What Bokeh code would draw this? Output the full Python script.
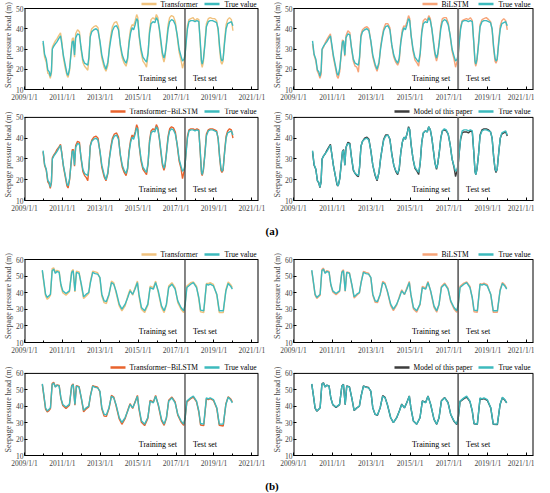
from bokeh.plotting import figure
from bokeh.models import Label, FixedTicker, Div, Range1d, Arrow
from bokeh.layouts import column, row
from bokeh.embed import file_html
from bokeh.resources import INLINE

# ---------------- data (decimal years) ----------------
dates_a = [2009.98, 2010.06, 2010.15, 2010.23, 2010.30, 2010.36, 2010.42, 2010.47, 2010.55, 2010.63,
           2010.71, 2010.80, 2010.90, 2010.96, 2011.05, 2011.14, 2011.24, 2011.30, 2011.38, 2011.46,
           2011.52, 2011.58, 2011.64, 2011.70, 2011.80, 2011.90, 2011.98, 2012.08, 2012.17, 2012.26,
           2012.34, 2012.40, 2012.47, 2012.55, 2012.66, 2012.78, 2012.88, 2012.98, 2013.08, 2013.20,
           2013.30, 2013.40, 2013.48, 2013.56, 2013.64, 2013.74, 2013.86, 2013.96, 2014.06, 2014.16,
           2014.26, 2014.36, 2014.44, 2014.52, 2014.60, 2014.68, 2014.76, 2014.84, 2014.92, 2014.98,
           2015.05, 2015.15, 2015.25, 2015.36, 2015.44, 2015.52, 2015.60, 2015.68, 2015.78, 2015.88,
           2015.96, 2016.04, 2016.12, 2016.20, 2016.28, 2016.36, 2016.42, 2016.50, 2016.58, 2016.66,
           2016.76, 2016.86, 2016.96, 2017.06, 2017.16, 2017.26, 2017.34, 2017.42, 2017.47, 2017.53,
           2017.60, 2017.68, 2017.78, 2017.90, 2018.00, 2018.10, 2018.20, 2018.28, 2018.34, 2018.38,
           2018.44, 2018.52, 2018.60, 2018.70, 2018.80, 2018.92, 2019.04, 2019.14, 2019.22, 2019.30,
           2019.37, 2019.42, 2019.48, 2019.56, 2019.64, 2019.72, 2019.82, 2019.92, 2020.00]

true_a = [34.0, 27.4, 25.0, 19.6, 18.8, 16.5, 19.0, 30.0, 31.5, 32.5,
          33.5, 35.0, 36.5, 33.0, 27.0, 22.7, 18.0, 17.0, 20.5, 28.0,
          33.5, 34.0, 27.0, 35.5, 37.5, 37.0, 31.0, 25.0, 23.0, 22.5,
          22.0, 26.0, 36.0, 38.5, 39.5, 40.0, 39.0, 34.0, 27.0, 22.5,
          20.0, 23.5, 30.0, 35.0, 39.0, 41.0, 41.5, 39.5, 32.0, 27.0,
          24.5, 23.0, 25.5, 33.0, 38.0, 40.5, 39.5, 42.0, 45.0, 44.0,
          37.0, 30.0, 26.0, 24.5, 23.5, 28.0, 38.0, 42.5, 43.5, 43.0,
          45.5, 44.0, 40.0, 34.0, 28.0, 25.5, 27.5, 33.0, 40.0, 43.5,
          44.5, 44.0, 42.0, 37.0, 30.0, 26.5, 24.0, 25.0, 27.0, 33.0,
          40.0, 43.5, 44.0, 44.0, 43.5, 44.0, 43.5, 33.0, 24.0, 22.5,
          25.0, 32.0, 41.0, 43.5, 44.0, 44.0, 43.5, 43.0, 40.0, 31.0,
          25.5, 24.0, 25.0, 33.0, 40.0, 42.5, 43.0, 43.5, 41.5]

transformer_a = [33.0, 26.0, 23.5, 18.0, 17.5, 15.5, 18.0, 31.0, 32.5, 34.0,
                 35.0, 36.5, 38.0, 34.5, 26.0, 21.0, 17.0, 16.0, 19.5, 29.5,
                 35.0, 35.5, 26.0, 37.5, 39.5, 38.5, 30.0, 23.5, 21.5, 20.5,
                 19.5, 25.0, 37.5, 40.0, 41.0, 41.5, 40.5, 33.0, 25.5, 21.0,
                 19.0, 22.0, 31.5, 37.0, 41.0, 43.0, 43.5, 41.0, 31.0, 25.5,
                 23.0, 21.5, 24.5, 34.5, 40.0, 42.0, 41.5, 44.0, 47.0, 45.5,
                 36.0, 28.5, 24.0, 22.5, 21.0, 27.0, 39.5, 44.5, 45.5, 44.5,
                 47.0, 45.5, 39.0, 32.5, 26.5, 23.5, 26.0, 34.5, 42.0, 45.5,
                 46.5, 46.0, 43.5, 36.0, 28.5, 24.5, 20.5, 23.5, 26.0, 34.5,
                 41.5, 44.5, 45.0, 45.5, 44.0, 45.0, 44.5, 32.0, 22.5, 21.0,
                 23.5, 33.5, 42.5, 45.0, 45.5, 45.0, 45.0, 44.0, 39.0, 29.5,
                 23.5, 22.5, 24.0, 34.5, 42.0, 44.5, 45.5, 44.5, 39.0]

bilstm_a = [32.5, 27.0, 24.0, 19.0, 17.5, 15.5, 17.5, 29.5, 31.0, 33.0,
            34.5, 36.0, 37.5, 32.0, 26.0, 21.5, 16.5, 15.5, 19.0, 28.5,
            34.5, 33.5, 26.5, 36.5, 39.0, 38.0, 30.5, 24.0, 21.5, 21.0,
            18.5, 25.5, 37.0, 39.5, 40.5, 41.0, 40.0, 33.5, 26.0, 21.5,
            19.0, 22.5, 31.0, 36.0, 40.0, 42.5, 42.5, 40.5, 31.5, 26.0,
            23.5, 22.0, 24.0, 34.0, 39.5, 41.5, 41.0, 43.5, 46.5, 45.0,
            36.5, 29.0, 24.5, 23.0, 21.5, 27.5, 39.0, 44.0, 45.0, 44.0,
            46.5, 45.0, 39.5, 33.0, 27.0, 24.0, 26.5, 34.0, 41.5, 45.0,
            45.5, 45.5, 43.0, 36.5, 29.0, 25.0, 21.0, 24.0, 26.5, 34.0,
            41.0, 44.0, 44.5, 45.0, 44.5, 45.5, 44.0, 32.5, 23.0, 21.5,
            24.0, 33.0, 42.0, 44.5, 45.0, 45.5, 44.5, 43.5, 39.5, 30.0,
            24.0, 23.0, 24.5, 34.0, 41.5, 44.0, 45.0, 44.0, 39.5]

hybrid_a = [33.5, 27.0, 24.5, 19.0, 18.0, 15.8, 18.5, 30.5, 32.0, 33.0,
            34.5, 35.5, 37.0, 33.5, 26.5, 22.0, 17.0, 16.0, 20.0, 28.5,
            34.5, 34.5, 26.5, 36.5, 38.5, 38.0, 30.5, 24.0, 22.0, 21.0,
            19.5, 25.5, 36.5, 39.0, 40.5, 41.0, 40.0, 33.5, 26.0, 21.5,
            19.5, 23.0, 30.5, 36.0, 40.0, 42.0, 42.5, 40.5, 31.5, 26.0,
            23.5, 22.0, 25.0, 34.0, 39.0, 41.5, 40.5, 43.0, 46.5, 45.0,
            36.5, 29.0, 25.0, 23.5, 22.5, 27.5, 39.0, 43.5, 44.5, 44.0,
            46.5, 45.0, 39.5, 33.0, 27.0, 24.5, 26.5, 34.0, 41.0, 44.5,
            45.5, 45.0, 43.0, 36.5, 29.0, 25.5, 20.5, 24.0, 26.5, 34.0,
            41.0, 44.0, 44.5, 44.5, 44.0, 44.5, 44.0, 32.5, 23.0, 22.0,
            24.5, 32.5, 42.0, 44.0, 44.5, 44.5, 44.0, 43.5, 39.5, 30.5,
            24.5, 23.5, 24.5, 33.5, 41.0, 43.5, 44.5, 44.0, 40.0]

model_a = [33.5, 27.0, 25.0, 19.5, 18.5, 16.2, 19.0, 30.0, 31.5, 32.5,
           34.0, 35.5, 37.0, 33.0, 27.0, 22.5, 17.5, 17.0, 20.5, 28.0,
           33.5, 34.5, 27.0, 35.5, 38.0, 37.5, 31.0, 24.5, 23.0, 22.0,
           21.5, 26.0, 36.0, 38.5, 40.0, 40.5, 39.5, 34.0, 27.0, 22.0,
           19.5, 23.5, 30.0, 35.0, 39.5, 41.5, 41.5, 39.5, 32.5, 27.0,
           24.0, 22.5, 25.0, 33.0, 38.0, 40.5, 39.5, 42.0, 45.5, 44.0,
           37.0, 30.0, 25.5, 24.0, 22.5, 28.0, 38.0, 42.5, 43.5, 43.0,
           45.5, 44.0, 40.0, 34.0, 28.0, 25.0, 27.5, 33.0, 40.0, 43.5,
           44.0, 43.5, 42.0, 37.0, 30.0, 26.0, 21.5, 24.5, 27.0, 33.5,
           39.5, 42.5, 43.0, 43.0, 42.5, 43.5, 43.0, 33.0, 24.0, 22.5,
           25.0, 32.0, 41.5, 44.0, 44.5, 44.5, 44.0, 43.0, 40.0, 31.0,
           25.0, 23.5, 25.0, 33.0, 40.0, 42.0, 42.5, 43.0, 41.0]

dates_b = [2009.94, 2010.03, 2010.11, 2010.20, 2010.29, 2010.37, 2010.46, 2010.54, 2010.63, 2010.71,
           2010.83, 2010.92, 2011.02, 2011.19, 2011.37, 2011.49, 2011.57, 2011.66, 2011.74, 2011.88,
           2012.00, 2012.12, 2012.26, 2012.39, 2012.48, 2012.60, 2012.73, 2012.86, 2012.98, 2013.08,
           2013.20, 2013.32, 2013.46, 2013.59, 2013.71, 2013.83, 2014.00, 2014.14, 2014.31, 2014.45,
           2014.57, 2014.71, 2014.83, 2014.96, 2015.04, 2015.17, 2015.34, 2015.51, 2015.63, 2015.80,
           2015.92, 2016.06, 2016.23, 2016.37, 2016.49, 2016.61, 2016.78, 2016.95, 2017.09, 2017.26,
           2017.40, 2017.48, 2017.57, 2017.77, 2017.91, 2018.08, 2018.20, 2018.29, 2018.46, 2018.60,
           2018.70, 2018.80, 2018.97, 2019.15, 2019.28, 2019.49, 2019.63, 2019.75, 2019.87, 2019.97]

true_b = [53.6, 46.1, 39.1, 37.1, 38.1, 39.1, 53.2, 54.2, 51.6, 52.8,
          52.2, 45.1, 41.1, 39.5, 41.1, 52.2, 53.2, 41.1, 52.2, 51.6,
          45.1, 37.5, 39.1, 40.1, 46.1, 52.2, 51.5, 51.2, 49.2, 39.1,
          35.1, 34.7, 39.1, 46.1, 45.1, 41.1, 33.1, 30.1, 33.1, 37.1,
          41.1, 39.1, 42.1, 46.1, 39.1, 31.1, 29.1, 33.1, 43.1, 42.1,
          46.1, 41.1, 32.1, 29.1, 33.1, 43.1, 45.1, 42.1, 35.1, 31.1,
          29.1, 33.0, 43.1, 45.1, 46.1, 43.1, 37.1, 29.5, 29.1, 45.1,
          44.5, 45.1, 44.1, 39.1, 29.1, 29.1, 41.1, 45.5, 44.1, 42.1]

transformer_b = [53.0, 45.0, 38.0, 36.0, 37.0, 38.5, 54.5, 55.0, 52.5, 53.5,
                 53.0, 44.0, 40.0, 38.5, 40.5, 53.0, 54.0, 40.5, 53.0, 52.5,
                 44.0, 36.5, 38.0, 39.5, 47.0, 53.0, 52.5, 52.0, 48.5, 38.0,
                 34.0, 33.5, 38.5, 47.0, 46.0, 40.0, 32.0, 29.0, 32.0, 38.0,
                 42.0, 38.5, 43.0, 47.0, 38.0, 30.0, 28.0, 32.5, 44.0, 43.0,
                 47.0, 40.0, 31.0, 28.0, 32.5, 44.0, 46.0, 43.0, 34.0, 30.0,
                 28.0, 33.5, 44.0, 46.0, 46.5, 44.0, 36.0, 28.5, 28.0, 45.5,
                 45.5, 46.0, 45.0, 38.5, 28.0, 28.0, 42.0, 46.5, 45.0, 43.0]

bilstm_b = [53.2, 45.5, 38.5, 36.5, 37.5, 38.5, 54.0, 54.8, 52.0, 53.2,
            52.8, 44.5, 40.5, 38.8, 40.8, 52.8, 53.8, 40.8, 52.5, 52.0,
            44.5, 36.8, 38.5, 39.8, 46.5, 52.8, 52.2, 51.8, 48.8, 38.5,
            34.2, 34.0, 38.8, 46.8, 45.8, 40.5, 32.2, 29.2, 32.5, 37.8,
            41.8, 38.8, 42.8, 46.8, 38.5, 30.2, 28.2, 32.8, 43.8, 42.8,
            46.8, 40.5, 31.2, 28.2, 32.8, 43.8, 45.8, 42.8, 34.5, 30.2,
            28.2, 33.2, 43.8, 45.8, 46.5, 43.8, 36.5, 28.5, 28.2, 45.5,
            45.2, 45.8, 44.8, 38.8, 28.2, 28.2, 41.8, 46.2, 44.8, 42.8]

hybrid_b = [53.3, 45.6, 38.2, 36.5, 37.3, 38.6, 53.8, 54.6, 51.8, 53.0,
            52.6, 44.6, 40.4, 38.6, 40.6, 52.6, 53.6, 40.6, 52.6, 51.9,
            44.6, 36.6, 38.4, 39.6, 46.6, 52.6, 52.0, 51.6, 48.8, 38.4,
            34.0, 33.8, 38.6, 46.6, 45.6, 40.4, 32.2, 29.0, 32.4, 37.6,
            41.6, 38.6, 42.6, 46.6, 38.4, 30.2, 28.2, 32.6, 43.6, 42.6,
            46.6, 40.6, 31.2, 28.4, 32.6, 43.6, 45.6, 42.6, 34.6, 30.4,
            28.4, 33.2, 42.6, 44.6, 45.6, 42.6, 36.4, 28.6, 28.2, 44.6,
            44.0, 44.6, 43.6, 38.6, 28.4, 28.0, 41.6, 45.8, 44.6, 42.6]

model_b = [53.5, 46.0, 38.8, 37.0, 38.0, 39.0, 53.5, 54.3, 51.8, 52.8,
           52.4, 45.0, 41.0, 39.3, 41.0, 52.4, 53.4, 41.0, 52.4, 51.8,
           45.0, 37.4, 39.0, 40.0, 46.3, 52.4, 51.7, 51.4, 49.0, 39.0,
           35.0, 34.5, 39.0, 46.5, 45.5, 41.0, 33.0, 30.0, 33.0, 37.3,
           41.3, 39.0, 42.3, 46.3, 39.0, 31.0, 29.0, 33.0, 43.3, 42.3,
           46.3, 41.0, 32.0, 29.0, 33.0, 43.3, 45.3, 42.3, 35.0, 30.8,
           28.8, 33.0, 42.8, 44.6, 45.6, 42.8, 37.0, 29.3, 29.0, 44.6,
           44.2, 44.6, 43.6, 39.0, 29.0, 28.8, 41.0, 45.2, 43.8, 42.0]

split_date = 2017.47
x_major = [2009, 2011, 2013, 2015, 2017, 2019, 2021]
x_minor = [2010, 2012, 2014, 2016, 2018, 2020]
x_labels = ["2009/1/1", "2011/1/1", "2013/1/1", "2015/1/1", "2017/1/1", "2019/1/1", "2021/1/1"]
y_ticks_a = [10, 20, 30, 40, 50]
y_ticks_b = [10, 20, 30, 40, 50, 60]

# ---------------- styles ----------------
FONT = "Liberation Serif"
C_TRUE = "#3DBABD"
C_TRANS = "#F0C27E"
C_BILSTM = "#F7A478"
C_HYBRID = "#E8632D"
C_MODEL = "#3C3C3C"
X_START, X_END = 2009.0, 2021.35


def add_legend(p, fw, y, g1, name, color):
    items = ((g1, g1 + 19, name, color, "left"),
             (fw - 60, fw - 8, "True value", C_TRUE, "right"))
    for gx, tx, txt, col, align in items:
        p.add_layout(Arrow(end=None, x_start=gx, y_start=y, x_end=gx + 15, y_end=y,
                           start_units="screen", end_units="screen",
                           line_color=col, line_width=2.5))
        p.add_layout(Label(x=tx, y=y, x_units="screen", y_units="screen",
                           text=txt, text_align=align, text_baseline="middle",
                           text_font=FONT, text_font_size="7.5px", text_color="black"))


def make_panel(dates, truth, pred, name, color, yticks, w, h, bl, br, bt, bb, extra,
               leg_x, leg_gap, span_color, span_w):
    fw = w - bl - br
    fh = h - bt - bb
    box_h = fh - extra                      # height of the visible plot box
    y0, y1 = yticks[0], yticks[-1]
    y_top = y1 + (y1 - y0) * extra / box_h  # room above the box for the legend
    p = figure(width=w, height=h, x_range=Range1d(X_START, X_END),
               y_range=Range1d(y0, y_top),
               output_backend="svg", toolbar_location=None, tools="",
               min_border_left=bl, min_border_right=br,
               min_border_top=bt, min_border_bottom=bb)
    p.xgrid.visible = False
    p.ygrid.visible = False
    p.outline_line_color = None
    p.background_fill_color = "white"
    p.border_fill_color = "white"

    p.line(dates, pred, line_color=color, line_width=1.4)
    p.line(dates, truth, line_color=C_TRUE, line_width=1.4)

    # plot box (left, right, top edges) and the training/test divider
    p.segment(x0=[X_START, X_END], y0=[y0, y0], x1=[X_START, X_END], y1=[y1, y1],
              line_color="black", line_width=2)
    p.segment(x0=[X_START], y0=[y1], x1=[X_END], y1=[y1], line_color="black", line_width=1)
    p.segment(x0=[split_date], y0=[y0], x1=[split_date], y1=[y1],
              line_color=span_color, line_width=span_w)

    xa = p.xaxis[0]
    xa.ticker = FixedTicker(ticks=x_major, minor_ticks=x_minor)
    xa.major_label_overrides = {t: l for t, l in zip(x_major, x_labels)}
    xa.major_label_text_font = FONT
    xa.major_label_text_font_size = "7.5px"
    xa.major_label_standoff = 3
    xa.major_tick_in = 3
    xa.major_tick_out = 0
    xa.minor_tick_in = 2
    xa.minor_tick_out = 0
    xa.axis_line_color = "black"

    ya = p.yaxis[0]
    ya.ticker = FixedTicker(ticks=yticks, minor_ticks=[])
    ya.major_label_text_font = FONT
    ya.major_label_text_font_size = "7.5px"
    ya.major_label_standoff = 1
    ya.major_tick_in = 3
    ya.major_tick_out = 0
    ya.axis_label = "Seepage pressure head (m)"
    ya.axis_label_text_font = FONT
    ya.axis_label_text_font_size = "8px"
    ya.axis_label_text_font_style = "normal"
    ya.axis_label_standoff = 0
    ya.axis_line_color = None

    add_legend(p, fw, box_h + leg_gap, leg_x, name, color)

    for txt, off, align in (("Training set", -8, "right"), ("Test set", 8, "left")):
        p.add_layout(Label(x=split_date, y=11, y_units="screen", x_offset=off,
                           text=txt, text_align=align, text_baseline="middle",
                           text_font=FONT, text_font_size="8px", text_color="black"))
    return p


LW, RW = 269, 265
rows_spec = [
    # height, top border, bottom border, extra room above box, legend gap, (left), (right)
    (106, 0, 17, 8, 4.5,
     (dates_a, true_a, transformer_a, "Transformer", C_TRANS, y_ticks_a, 117, "#333333", 1.2),
     (dates_a, true_a, bilstm_a, "BiLSTM", C_BILSTM, y_ticks_a, 129, "#7F7F7F", 2.0)),
    (109, 2, 14, 9, 5,
     (dates_a, true_a, hybrid_a, "Transformer\u2212BiLSTM", C_HYBRID, y_ticks_a, 86, "#333333", 1.2),
     (dates_a, true_a, model_a, "Model of this paper", C_MODEL, y_ticks_a, 101, "#7F7F7F", 2.0)),
    (114, 2, 19, 10, 5,
     (dates_b, true_b, transformer_b, "Transformer", C_TRANS, y_ticks_b, 117, "#333333", 1.2),
     (dates_b, true_b, bilstm_b, "BiLSTM", C_BILSTM, y_ticks_b, 129, "#444444", 1.4)),
    (109, 2, 14, 10, 5,
     (dates_b, true_b, hybrid_b, "Transformer\u2212BiLSTM", C_HYBRID, y_ticks_b, 86, "#333333", 1.2),
     (dates_b, true_b, model_b, "Model of this paper", C_MODEL, y_ticks_b, 101, "#444444", 1.4)),
]

figure_rows = []
for h, bt, bb, ex, gap, la, ra in rows_spec:
    d, t, pr, nm, col, yt, lx, sc, sw = la
    left = make_panel(d, t, pr, nm, col, yt, LW, h, 18, 11, bt, bb, ex, lx, gap, sc, sw)
    d, t, pr, nm, col, yt, lx, sc, sw = ra
    right = make_panel(d, t, pr, nm, col, yt, RW, h, 19, 1, bt, bb, ex, lx, gap, sc, sw)
    figure_rows.append(row(left, right))


def caption(txt, h, lh):
    return Div(text="<b>%s</b>" % txt, width=LW + RW, height=h,
               styles={"text-align": "center", "font-family": FONT,
                       "font-size": "11px", "line-height": lh, "color": "black"})


layout = column(figure_rows[0], figure_rows[1], caption("(a)", 22, "22px"),
                figure_rows[2], figure_rows[3], caption("(b)", 17, "22px"))

open("out.html", "w").write(file_html(layout, INLINE))
